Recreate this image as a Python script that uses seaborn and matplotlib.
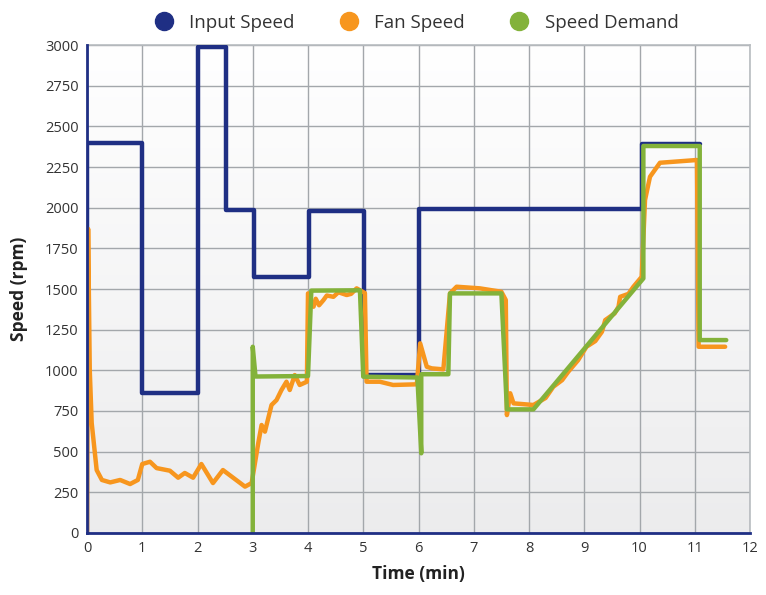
import numpy as np
import pandas as pd
import matplotlib
matplotlib.use("Agg")
import matplotlib.pyplot as plt
from matplotlib.lines import Line2D
import seaborn as sns

# ---- data ----
input_t = [0, 0, 1, 1, 2, 2, 2.52, 2.52, 3.02, 3.02, 4.02, 4.02, 5.01, 5.01, 6.0, 6.0, 10.04, 10.04, 11.1]
input_v = [0, 2400, 2400, 860, 860, 2985, 2985, 1985, 1985, 1575, 1575, 1980, 1980, 972, 972, 1990, 1990, 2392, 2392]

fan_t = [0, 0.02, 0.05, 0.085, 0.175, 0.27, 0.42, 0.6, 0.78, 0.92, 1.0, 1.14, 1.26, 1.5, 1.65, 1.77,
         1.92, 2.07, 2.28, 2.46, 2.86, 2.98, 3.1, 3.16, 3.22, 3.34, 3.43, 3.52, 3.61, 3.67, 3.76,
         3.85, 3.98, 4.0, 4.1, 4.14, 4.2, 4.28, 4.34, 4.46, 4.55, 4.7, 4.78, 4.88, 5.03, 5.06, 5.3, 5.54, 5.97, 6.03, 6.15, 6.24,
         6.45, 6.57, 6.69, 7.11, 7.5, 7.58, 7.6, 7.66, 7.72, 8.08, 8.3, 8.44, 8.6, 8.71, 8.89, 9.04, 9.2, 9.32,
         9.38, 9.55, 9.62, 9.65, 9.8, 9.89, 10.04, 10.1, 10.19, 10.37, 11.04, 11.07, 11.55]
fan_v = [0, 1870, 1000, 676, 387, 326, 311, 326, 301, 326, 424, 438, 399, 383, 340, 369,
         340, 424, 307, 387, 285, 307, 553, 664, 623, 787, 817, 879, 930, 879, 971,
         910, 930, 1473, 1391, 1440, 1400, 1432, 1460, 1452, 1480, 1463, 1470, 1504, 1475, 930, 930, 910, 914, 1166, 1022, 1012,
         1006, 1473, 1514, 1504, 1483, 1432, 725, 859, 797, 787, 830, 899, 940, 991, 1063, 1145, 1180, 1237,
         1309, 1350, 1391, 1452, 1470, 1514, 1575, 2047, 2190, 2276, 2293, 1145, 1145]

demand_t = [3.0, 3.0, 3.05, 4.0, 4.06, 4.94, 5.0, 5.98, 6.05, 6.05, 6.54, 6.57, 7.5, 7.6, 8.08,
            10.07, 10.07, 11.09, 11.09, 11.57]
demand_v = [0, 1145, 962, 965, 1490, 1492, 961, 956, 490, 976, 976, 1473, 1473, 760, 760,
            1565, 2379, 2379, 1186, 1186]

series_names = ["Input Speed", "Fan Speed", "Speed Demand"]
colors = {"Input Speed": "#1f2f84", "Fan Speed": "#f7961e", "Speed Demand": "#83b23a"}

x_ticks = list(range(0, 13))
y_ticks = list(range(0, 3001, 250))

df = pd.concat([
    pd.DataFrame({"t": input_t, "v": input_v, "s": "Input Speed"}),
    pd.DataFrame({"t": fan_t, "v": fan_v, "s": "Fan Speed"}),
    pd.DataFrame({"t": demand_t, "v": demand_v, "s": "Speed Demand"}),
], ignore_index=True)

sns.set_theme(style="white")
plt.rcParams["font.family"] = ["Open Sans", "DejaVu Sans"]

fig = plt.figure(figsize=(7.66, 5.95), dpi=100)
ax = fig.add_axes([87 / 766, 1 - 533 / 595, (750 - 87) / 766, (533 - 45) / 595])

# gradient background
grad = np.linspace(1.0, 0.0, 256).reshape(-1, 1)
top = np.array([1.0, 1.0, 1.0])
bot = np.array([0.925, 0.925, 0.93])
img = bot + (top - bot) * grad[..., None]
ax.imshow(img, extent=[0, 1, 0, 1], transform=ax.transAxes, aspect="auto", zorder=0)

for name in series_names:
    sub = df[df["s"] == name]
    sns.lineplot(data=sub, x="t", y="v", sort=False, estimator=None, color=colors[name],
                 linewidth=3.2, ax=ax, zorder=3, solid_joinstyle="round")

ax.set_xlim(0, 12)
ax.set_ylim(0, 3000)
ax.set_xticks(x_ticks)
ax.set_yticks(y_ticks)
ax.set_xticklabels([str(x) for x in x_ticks])
ax.grid(True, color="#a3a7ab", linewidth=1.0, zorder=1)
ax.set_axisbelow(True)
for s in ["top", "right"]:
    ax.spines[s].set_color("#b8bcc0")
    ax.spines[s].set_linewidth(1.2)
for s in ["left", "bottom"]:
    ax.spines[s].set_color("#1f2f84")
    ax.spines[s].set_linewidth(2)
    ax.spines[s].set_zorder(4)
ax.tick_params(axis="both", labelsize=10.5, colors="#333333", length=0, pad=6)
ax.set_xlabel("Time (min)", fontsize=12.5, fontweight="bold", color="#222222", labelpad=6)
ax.set_ylabel("Speed (rpm)", fontsize=12.5, fontweight="bold", color="#222222", labelpad=12)

handles = [Line2D([], [], marker="o", linestyle="", markersize=13, color=colors[n]) for n in series_names]
leg = ax.legend(handles, series_names, loc="lower center", bbox_to_anchor=(0.49, 1.012), ncol=3,
                frameon=False, handletextpad=0.35, columnspacing=1.9, borderaxespad=0.0,
                prop={"size": 13.5})
for txt in leg.get_texts():
    txt.set_color("#333333")

fig.savefig("out.png", dpi=100)
